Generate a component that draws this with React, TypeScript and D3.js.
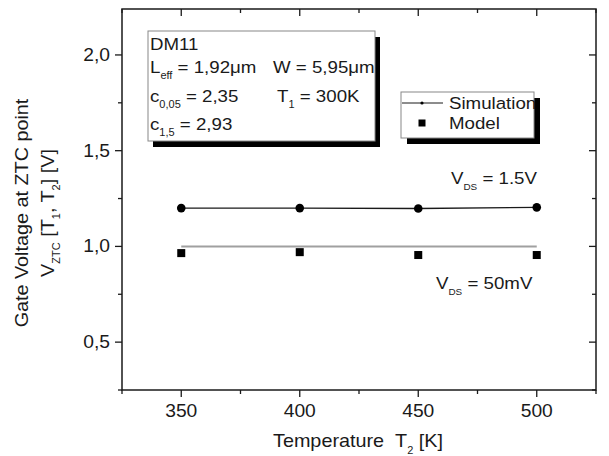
import React from "react";
import * as d3 from "d3";

const temps = [350, 400, 450, 500];
const simHigh = [1.2, 1.2, 1.198, 1.204];
const simLow = [1.0, 1.0, 1.0, 1.0];
const modelLow = [0.965, 0.97, 0.955, 0.955];
const xMajor = [350, 400, 450, 500];
const xMinor = [325, 375, 425, 475, 525];
const yMajor = [0.5, 1.0, 1.5, 2.0];
const yMinor = [0.25, 0.75, 1.25, 1.75];

const W = 609, H = 456;
const L = 122, R = 596, TOP = 9, BOT = 390;
const SX = 1.1;
const FONT = "'Liberation Sans', Arial, Helvetica, sans-serif";
const INK = "#1a1a1a";

function Txt({ x, y, anchor = "start", size = 17, rotate = 0, children }: any) {
  const tr = `translate(${x},${y})${rotate ? ` rotate(${rotate})` : ""} scale(${SX},1)`;
  return (
    <text transform={tr} textAnchor={anchor} fontSize={size} fontFamily={FONT} fill={INK} style={{ whiteSpace: "pre" }}>
      {children}
    </text>
  );
}

// main text, subscript, then the rest of the text back on the baseline
function sub(s: string, rest: string, d = 6, size = 10) {
  return [
    <tspan key="s" fontSize={size} dy={d}>{s}</tspan>,
    <tspan key="r" dy={-d}>{rest}</tspan>,
  ];
}

export default function App() {
  const x = d3.scaleLinear().domain([325, 525]).range([L, R]);
  const y = d3.scaleLinear().domain([0.25, 2.24]).range([BOT, TOP]);
  const line = d3.line<number>().x((_, i) => x(temps[i])).y((v) => y(v));

  return (
    <svg width={W} height={H} style={{ position: "absolute", left: 0, top: 0, background: "#fff" }}>
      <rect x={0} y={0} width={W} height={H} fill="#fff" />
      {/* frame */}
      <rect x={L} y={TOP} width={R - L} height={BOT - TOP} fill="none" stroke={INK} strokeWidth={1.5} />
      {xMajor.map((t) => (
        <g key={"xM" + t}>
          <line x1={x(t)} x2={x(t)} y1={BOT} y2={BOT + 7} stroke={INK} strokeWidth={1.3} />
          <line x1={x(t)} x2={x(t)} y1={TOP} y2={TOP + 7} stroke={INK} strokeWidth={1.3} />
          <Txt x={x(t)} y={417} anchor="middle" size={17.5}>{String(t)}</Txt>
        </g>
      ))}
      {xMinor.map((t) => (
        <g key={"xm" + t}>
          <line x1={x(t)} x2={x(t)} y1={BOT} y2={BOT + 4} stroke={INK} strokeWidth={1.3} />
          <line x1={x(t)} x2={x(t)} y1={TOP} y2={TOP + 4} stroke={INK} strokeWidth={1.3} />
        </g>
      ))}
      {yMajor.map((t) => (
        <g key={"yM" + t}>
          <line x1={L - 7} x2={L} y1={y(t)} y2={y(t)} stroke={INK} strokeWidth={1.3} />
          <line x1={R - 7} x2={R} y1={y(t)} y2={y(t)} stroke={INK} strokeWidth={1.3} />
          <Txt x={110} y={y(t) + 6} anchor="end" size={17.5}>{d3.format(".1f")(t).replace(".", ",")}</Txt>
        </g>
      ))}
      {yMinor.map((t) => (
        <g key={"ym" + t}>
          <line x1={L - 4} x2={L} y1={y(t)} y2={y(t)} stroke={INK} strokeWidth={1.3} />
          <line x1={R - 4} x2={R} y1={y(t)} y2={y(t)} stroke={INK} strokeWidth={1.3} />
        </g>
      ))}

      {/* data */}
      <path d={line(simLow) || ""} fill="none" stroke="#a0a0a0" strokeWidth={2} />
      <path d={line(simHigh) || ""} fill="none" stroke={INK} strokeWidth={1.3} />
      {simHigh.map((v, i) => (
        <circle key={"c" + i} cx={x(temps[i])} cy={y(v)} r={4.3} fill="#000" />
      ))}
      {modelLow.map((v, i) => (
        <rect key={"s" + i} x={x(temps[i]) - 4} y={y(v) - 4} width={8} height={8} fill="#000" />
      ))}

      {/* info box */}
      <rect x={153} y={37} width={227} height={110} fill="#000" />
      <rect x={148} y={31} width={227} height={110} fill="#fff" stroke="#888" strokeWidth={1} />
      <Txt x={150} y={50}>DM11</Txt>
      <Txt x={150} y={73}>L{sub("eff", " = 1,92μm")}</Txt>
      <Txt x={273} y={73}>W = 5,95μm</Txt>
      <Txt x={150} y={102}>c{sub("0,05", " = 2,35")}</Txt>
      <Txt x={277} y={102}>T{sub("1", " = 300K")}</Txt>
      <Txt x={150} y={130}>c{sub("1,5", " = 2,93")}</Txt>

      {/* legend */}
      <rect x={407} y={98} width={133} height={46} fill="#000" />
      <rect x={401} y={92} width={133} height={46} fill="#fff" stroke="#888" strokeWidth={1} />
      <line x1={402} x2={443} y1={103} y2={103} stroke={INK} strokeWidth={1} />
      <circle cx={422} cy={103} r={1.6} fill="#000" />
      <Txt x={449} y={109}>Simulation</Txt>
      <rect x={418.5} y={119.5} width={7} height={7} fill="#000" />
      <Txt x={449} y={129}>Model</Txt>

      {/* annotations */}
      <Txt x={451} y={184}>V{sub("DS", " = 1.5V", 6, 9)}</Txt>
      <Txt x={436} y={289}>V{sub("DS", " = 50mV", 6, 9)}</Txt>

      {/* axis titles */}
      <Txt x={273} y={447} size={18}>{"Temperature\u00a0\u00a0T"}{sub("2", " [K]", 7)}</Txt>
      <Txt x={28} y={213} anchor="middle" rotate={-90} size={18}>Gate Voltage at ZTC point</Txt>
      <Txt x={54} y={213} anchor="middle" rotate={-90} size={18}>
        V{sub("ZTC", " [T", 6)}{sub("1", ", T", 6)}{sub("2", "] [V]", 6)}
      </Txt>
    </svg>
  );
}
